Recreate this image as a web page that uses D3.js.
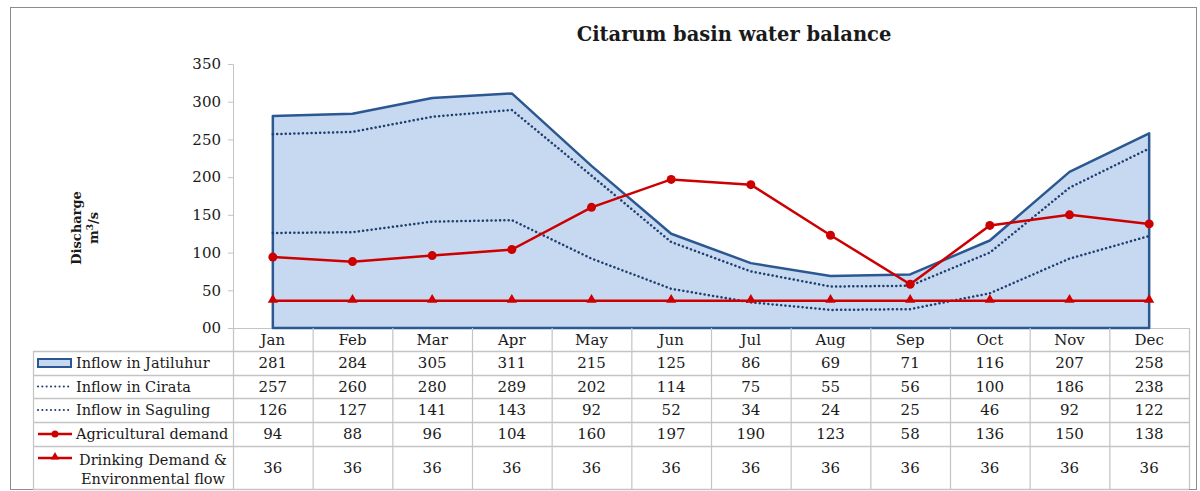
<!DOCTYPE html>
<html>
<head>
<meta charset="utf-8">
<script src="https://cdn.jsdelivr.net/npm/d3@7"></script>
<style>
  body { margin: 0; background: #fff; }
  text { font-family: "DejaVu Serif", serif; fill: #1a1a1a; }
</style>
</head>
<body>
<script>
var months = ["Jan", "Feb", "Mar", "Apr", "May", "Jun", "Jul", "Aug", "Sep", "Oct", "Nov", "Dec"];
var jatiluhur = [281, 284, 305, 311, 215, 125, 86, 69, 71, 116, 207, 258];
var cirata = [257, 260, 280, 289, 202, 114, 75, 55, 56, 100, 186, 238];
var saguling = [126, 127, 141, 143, 92, 52, 34, 24, 25, 46, 92, 122];
var agri = [94, 88, 96, 104, 160, 197, 190, 123, 58, 136, 150, 138];
var drinking = [36, 36, 36, 36, 36, 36, 36, 36, 36, 36, 36, 36];
var yTicks = [0, 50, 100, 150, 200, 250, 300, 350];

var width = 1200,
    height = 491;

var blue = "#2b5891",
    fillBlue = "#c6d9f1",
    dotBlue = "#1f3f6f",
    red = "#cc0000",
    grid = "#c4c4c4";

const svg = d3.select("body")
    .append("svg")
    .attr("width", width)
    .attr("height", height);

// outer frame
svg.append("rect")
    .attr("x", 10.5).attr("y", 7.5)
    .attr("width", 1186).attr("height", 482)
    .attr("fill", "none")
    .attr("stroke", "#8c8c8c");

svg.append("text")
    .attr("x", 734).attr("y", 41)
    .attr("text-anchor", "middle")
    .style("font-size", "19.5px")
    .style("font-weight", "bold")
    .text("Citarum basin water balance");

var plotL = 233, plotR = 1189, plotT = 64, plotB = 328;

var x = d3.scaleBand().domain(months).range([plotL, plotR]);
var y = d3.scaleLinear().domain([0, 350]).range([plotB, plotT]);
var cx = d => x(d) + x.bandwidth() / 2;

// y axis
var yAxis = svg.append("g")
    .attr("transform", `translate(${plotL},0)`)
    .call(d3.axisLeft(y).tickValues(yTicks).tickSize(5).tickPadding(7)
        .tickFormat(d => d === 0 ? "00" : d));
yAxis.select(".domain").attr("stroke", grid);
yAxis.selectAll(".tick line").attr("stroke", grid);
yAxis.selectAll("text")
    .style("font-size", "15px")
    .style("font-family", "DejaVu Serif, serif")
    .attr("fill", "#1a1a1a");

// axis title
var yt = svg.append("text")
    .attr("transform", "translate(81,228) rotate(-90)")
    .attr("text-anchor", "middle")
    .style("font-size", "13px")
    .style("font-weight", "bold");
yt.append("tspan").attr("x", 0).attr("dy", 0).text("Discharge");
var t2 = yt.append("tspan").attr("x", 0).attr("dy", 17).text("m");
t2.append("tspan").attr("dy", -5).style("font-size", "9px").text("3");
t2.append("tspan").attr("dy", 5).text("/s");

// area
var area = d3.area()
    .x((d, i) => cx(months[i]))
    .y0(y(0))
    .y1(d => y(d));
var areaPts = jatiluhur.map((d, i) => [cx(months[i]), y(d)]);
areaPts.push([cx(months[11]), y(0)], [cx(months[0]), y(0)]);

svg.append("path")
    .datum(jatiluhur)
    .attr("d", area)
    .attr("fill", fillBlue);

// x axis line
svg.append("line")
    .attr("x1", plotL - 5).attr("x2", plotR)
    .attr("y1", plotB + 0.5).attr("y2", plotB + 0.5)
    .attr("stroke", grid);

svg.append("path")
    .attr("d", "M" + areaPts.join("L") + "Z")
    .attr("fill", "none")
    .attr("stroke", blue)
    .attr("stroke-width", 2.5)
    .attr("stroke-linejoin", "round");

var line = d3.line()
    .x((d, i) => cx(months[i]))
    .y(d => y(d));

[cirata, saguling].forEach(s => {
    svg.append("path")
        .datum(s)
        .attr("d", line)
        .attr("fill", "none")
        .attr("stroke", dotBlue)
        .attr("stroke-width", 2.5)
        .attr("stroke-linecap", "round")
        .attr("stroke-dasharray", "0.1 4.2");
});

[agri, drinking].forEach(s => {
    svg.append("path")
        .datum(s)
        .attr("d", line)
        .attr("fill", "none")
        .attr("stroke", red)
        .attr("stroke-width", 2.5);
});

svg.append("g").selectAll("circle")
    .data(agri)
    .join("circle")
    .attr("cx", (d, i) => cx(months[i]))
    .attr("cy", d => y(d))
    .attr("r", 4.5)
    .attr("fill", red);

var tri = d3.symbol().type(d3.symbolTriangle).size(45);
svg.append("g").selectAll("path")
    .data(drinking)
    .join("path")
    .attr("d", tri)
    .attr("transform", (d, i) => `translate(${cx(months[i])},${y(d) - 1})`)
    .attr("fill", red);

// data table
var rowTops = [328, 351, 375, 398, 422, 446, 489];
var tableLeft = 33;
var series = [jatiluhur, cirata, saguling, agri, drinking];
var names = [["Inflow in Jatiluhur"], ["Inflow in Cirata"], ["Inflow in Saguling"],
    ["Agricultural demand"], ["Drinking Demand &", "Environmental flow"]];

var tg = svg.append("g");
// horizontal lines
for (var r = 1; r < rowTops.length; r++) {
    tg.append("line")
        .attr("x1", tableLeft).attr("x2", plotR)
        .attr("y1", rowTops[r] + 0.5).attr("y2", rowTops[r] + 0.5)
        .attr("stroke", grid).attr("stroke-width", 1.5);
}
// vertical lines
months.forEach((m, i) => {
    tg.append("line")
        .attr("x1", x(m) + 0.5).attr("x2", x(m) + 0.5)
        .attr("y1", plotB).attr("y2", rowTops[6])
        .attr("stroke", grid).attr("stroke-width", 1.2);
});
tg.append("line")
    .attr("x1", plotR + 0.5).attr("x2", plotR + 0.5)
    .attr("y1", plotB).attr("y2", rowTops[6])
    .attr("stroke", grid).attr("stroke-width", 1.2);
tg.append("line")
    .attr("x1", tableLeft + 0.5).attr("x2", tableLeft + 0.5)
    .attr("y1", rowTops[1]).attr("y2", rowTops[6])
    .attr("stroke", grid).attr("stroke-width", 1.2);

// month labels
tg.selectAll("text.month")
    .data(months)
    .join("text")
    .attr("class", "month")
    .attr("x", d => cx(d))
    .attr("y", 345)
    .attr("text-anchor", "middle")
    .style("font-size", "15px")
    .text(d => d);

// values
series.forEach((s, r) => {
    var yMid = (rowTops[r + 1] + rowTops[r + 2]) / 2;
    tg.selectAll("text.v" + r)
        .data(s)
        .join("text")
        .attr("class", "v" + r)
        .attr("x", (d, i) => cx(months[i]))
        .attr("y", yMid + 5)
        .attr("text-anchor", "middle")
        .style("font-size", "15px")
        .text(d => d);

    var nm = names[r];
    if (nm.length === 1) {
        tg.append("text")
            .attr("x", 76).attr("y", yMid + 5)
            .style("font-size", "14.5px")
            .text(nm[0]);
    } else {
        nm.forEach((t, k) => {
            tg.append("text")
                .attr("x", 153).attr("y", yMid - 3 + k * 19)
                .attr("text-anchor", "middle")
                .style("font-size", "14.5px")
                .text(t);
        });
    }

    // legend keys
    var ky = r === 4 ? rowTops[5] + 12 : yMid;
    if (r === 0) {
        tg.append("rect")
            .attr("x", 38).attr("y", ky - 4)
            .attr("width", 33).attr("height", 8)
            .attr("fill", fillBlue).attr("stroke", blue).attr("stroke-width", 2);
    } else if (r < 3) {
        tg.append("line")
            .attr("x1", 38).attr("x2", 71).attr("y1", ky).attr("y2", ky)
            .attr("stroke", dotBlue).attr("stroke-width", 2)
            .attr("stroke-linecap", "round").attr("stroke-dasharray", "0.1 4.2");
    } else {
        tg.append("line")
            .attr("x1", 38).attr("x2", 72).attr("y1", ky).attr("y2", ky)
            .attr("stroke", red).attr("stroke-width", 2.5);
        if (r === 3) {
            tg.append("circle").attr("cx", 55).attr("cy", ky).attr("r", 3.5).attr("fill", red);
        } else {
            tg.append("path").attr("d", d3.symbol().type(d3.symbolTriangle).size(32))
                .attr("transform", `translate(55,${ky - 1})`).attr("fill", red);
        }
    }
});
</script>
</body>
</html>
